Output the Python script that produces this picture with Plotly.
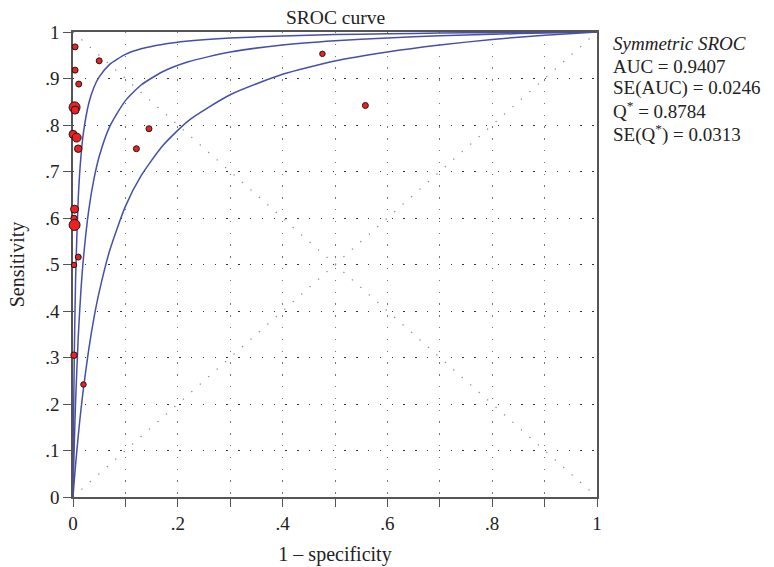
import plotly.graph_objects as go

# --- study points (1 - specificity, sensitivity, marker diameter) ---
study_fpr = [0.004, 0.050, 0.004, 0.011, 0.003, 0.004, 0.000, 0.007, 0.010, 0.145,
             0.121, 0.476, 0.558, 0.003, 0.002, 0.003, 0.010, 0.002, 0.002, 0.020]
study_sens = [0.968, 0.938, 0.918, 0.888, 0.838, 0.832, 0.780, 0.773, 0.749, 0.792,
              0.749, 0.953, 0.842, 0.619, 0.599, 0.585, 0.516, 0.499, 0.305, 0.242]
study_size = [6, 6, 6, 6, 11, 8, 8, 9, 7.5, 6,
              6, 5.5, 6, 8, 6.5, 11, 6, 5.5, 6.5, 5.5]

# --- SROC curve and its two bounds ---
curve_fpr = [0, 0.001, 0.0025, 0.005, 0.01, 0.015, 0.02, 0.03, 0.04, 0.05, 0.07, 0.1,
             0.13, 0.17, 0.22, 0.3, 0.4, 0.5, 0.6, 0.7, 0.8, 0.9, 1.0]
sroc_low = [0, 0.0148, 0.0362, 0.0701, 0.1316, 0.186, 0.234, 0.317, 0.385, 0.441, 0.530, 0.625,
            0.691, 0.754, 0.809, 0.865, 0.909, 0.9375, 0.957, 0.972, 0.984, 0.993, 1]
sroc_mid = [0, 0.0495, 0.1153, 0.2072, 0.3444, 0.4419, 0.5149, 0.6166, 0.6842, 0.7324, 0.7965, 0.8525,
            0.886, 0.914, 0.936, 0.957, 0.972, 0.981, 0.987, 0.992, 0.995, 0.998, 1]
sroc_high = [0, 0.1512, 0.3085, 0.4721, 0.6426, 0.7305, 0.7841, 0.8463, 0.8812, 0.9036, 0.9305, 0.9519,
             0.9638, 0.9733, 0.9805, 0.9871, 0.9916, 0.9944, 0.9963, 0.9976, 0.9986, 0.9994, 1]

# reference diagonals
diag_x = [0, 1]
diag_up = [0, 1]
diag_down = [1, 0]

tick_vals = [0, 0.1, 0.2, 0.3, 0.4, 0.5, 0.6, 0.7, 0.8, 0.9, 1]
x_tick_text = ["0", "", ".2", "", ".4", "", ".6", "", ".8", "", "1"]
y_tick_text = ["0", ".1", ".2", ".3", ".4", ".5", ".6", ".7", ".8", ".9", "1"]

stats_lines = [
    "<i>Symmetric SROC</i>",
    "AUC = 0.9407",
    "SE(AUC) = 0.0246",
    "Q<sup>*</sup> = 0.8784",
    "SE(Q<sup>*</sup>) = 0.0313",
]

FONT = "Liberation Serif, Times New Roman, serif"
INK = "#222222"
BLUE = "#4650A8"
RED = "#EE2020"
AXIS = "#555555"

fig = go.Figure()

for dy in (diag_up, diag_down):
    fig.add_trace(go.Scatter(
        x=diag_x, y=dy, mode="lines",
        line=dict(color="#8a8a8a", width=1.3, dash="1.3px,10px"),
        hoverinfo="skip", showlegend=False,
    ))

for cy in (sroc_high, sroc_mid, sroc_low):
    fig.add_trace(go.Scatter(
        x=curve_fpr, y=cy, mode="lines",
        line=dict(color=BLUE, width=1.5, shape="spline", smoothing=0.6),
        hoverinfo="skip", showlegend=False,
    ))

fig.add_trace(go.Scatter(
    x=study_fpr, y=study_sens, mode="markers",
    marker=dict(size=study_size, color=RED, opacity=1,
                line=dict(color="#1a1a1a", width=1)),
    cliponaxis=False, showlegend=False,
))

fig.update_layout(
    width=774, height=567,
    paper_bgcolor="white", plot_bgcolor="white",
    font=dict(family=FONT, size=19, color=INK),
    margin=dict(l=72.5, r=177, t=32, b=70, autoexpand=False),
    showlegend=False,
)

axis_common = dict(
    range=[0, 1], tickvals=tick_vals, automargin=False,
    showline=True, linecolor=AXIS, linewidth=1.6, mirror=True,
    ticks="outside", ticklen=8, tickwidth=1.3, tickcolor=AXIS,
    zeroline=False, layer="below traces",
    tickfont=dict(family=FONT, size=19, color=INK),
)
fig.update_xaxes(
    ticktext=x_tick_text, gridcolor="#777777", griddash="1.3px,10.5px", gridwidth=1.3,
    title=dict(text="1 – specificity", font=dict(family=FONT, size=20, color=INK), standoff=14),
    **axis_common,
)
fig.update_yaxes(
    ticktext=y_tick_text, gridcolor="#333333", griddash="1.3px,10.5px", gridwidth=1.3,
    title=dict(text="Sensitivity", font=dict(family=FONT, size=20, color=INK), standoff=15),
    **axis_common,
)

fig.add_annotation(
    text="SROC curve", xref="paper", yref="paper", x=0.5, y=1,
    xanchor="center", yanchor="bottom", yshift=2, showarrow=False,
    font=dict(family=FONT, size=19.5, color=INK),
)

line_px = [44, 66, 88, 110, 133]
for txt, py in zip(stats_lines, line_px):
    fig.add_annotation(
        text=txt, xref="paper", yref="paper",
        x=(611 - 72.5) / 524.5, y=(497 - py) / 465,
        xanchor="left", yanchor="middle", showarrow=False, align="left",
        font=dict(family=FONT, size=19, color=INK),
    )

fig.write_html("out.html", config={"displayModeBar": False},
               post_script="document.body.style.margin='0';")
